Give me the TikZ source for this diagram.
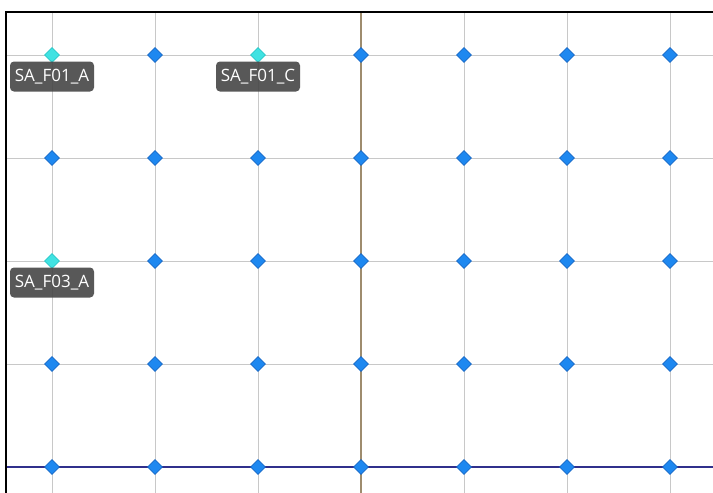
\documentclass[tikz,border=0pt]{standalone}
\usepackage{fontspec}
\setmainfont{Open Sans}
\usetikzlibrary{positioning, shapes.geometric}
\definecolor{gridgray}{RGB}{200,200,200}
\definecolor{spotblue}{RGB}{30,136,240}
\definecolor{spotedge}{RGB}{22,104,200}
\definecolor{spotcyan}{RGB}{64,226,226}
\definecolor{cyanedge}{RGB}{40,200,200}
\definecolor{tagdark}{RGB}{70,70,70}
\definecolor{axisbrown}{RGB}{158,140,110}
\definecolor{axisnavy}{RGB}{48,48,140}
\begin{document}
\begin{tikzpicture}[x=1pt, y=-1pt,
        gridline/.style={draw=gridgray, line width=1pt},
        spot/.style={diamond, draw=spotedge, fill=spotblue, line width=0.6pt, inner sep=0pt, minimum size=15pt},
        spotsel/.style={draw=cyanedge, fill=spotcyan},
        sel1-1/.style={spotsel}, sel3-1/.style={spotsel}, sel1-3/.style={spotsel},
        tag/.style={rectangle, fill=tagdark, fill opacity=0.9, text opacity=1, text=white, rounded corners=4pt,
                    minimum width=84pt, minimum height=30pt, inner xsep=3pt, font=\fontsize{17}{19}\selectfont}
    ]
        \useasboundingbox (0,0) rectangle (713,493);
        \fill [white] (0,0) rectangle (713,493);
        \foreach \x in {52,155,...,670}
            \path [gridline] (\x,12) -- (\x,493);
        \foreach \y in {55,158,...,467}
            \path [gridline] (6,\y) -- (713,\y);
        \path [draw=axisbrown, line width=1.2pt] (361,12) -- (361,493);
        \path [draw=axisnavy, line width=1.2pt] (6,467) -- (713,467);
        \path [draw=black, line width=2pt] (6,493) -- (6,12) -- (713,12);
        \foreach \i in {1,...,7}
            \foreach \j in {1,...,5}
                \node [spot, sel\i-\j/.try] (p\i-\j) at ({52+103*(\i-1)}, {55+103*(\j-1)}) {};
        \node [tag, below=-1.5pt of p1-1] (t1-1) {SA\_F01\_A};
        \node [tag, below=-1.5pt of p3-1] (t3-1) {SA\_F01\_C};
        \node [tag, below=-1.5pt of p1-3] (t1-3) {SA\_F03\_A};
    \end{tikzpicture}
\end{document}
